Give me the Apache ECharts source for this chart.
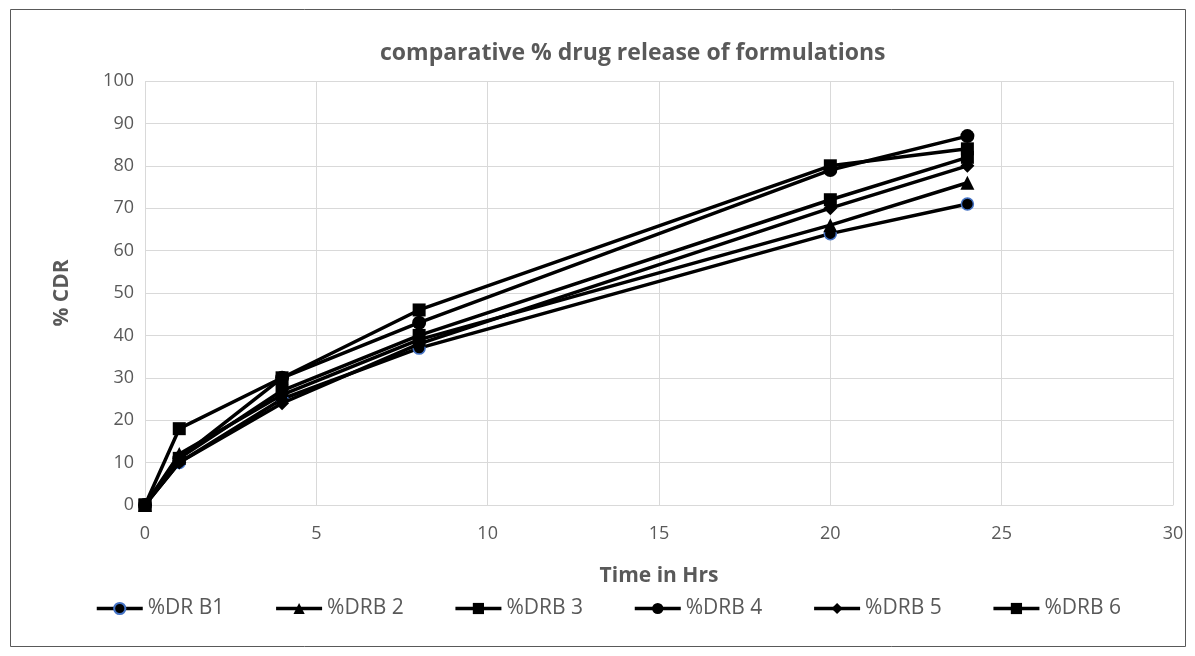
<!DOCTYPE html>
<html>
<head>
<meta charset="utf-8">
<script src="https://cdn.jsdelivr.net/npm/echarts@6/dist/echarts.min.js"></script>
<style>
html,body{margin:0;padding:0;background:#fff;}
#c{width:1195px;height:656px;}
</style>
</head>
<body>
<div id="c"></div>
<script>
const times = [0, 1, 4, 8, 20, 24];
const seriesNames = ['%DR B1', '%DRB 2', '%DRB 3', '%DRB 4', '%DRB 5', '%DRB 6'];
const drB1 = [0, 10, 25, 37, 64, 71];
const drB2 = [0, 12, 26, 39, 66, 76];
const drB3 = [0, 18, 30, 46, 80, 84];
const drB4 = [0, 11, 30, 43, 79, 87];
const drB5 = [0, 10, 24, 38, 70, 80];
const drB6 = [0, 11, 27, 40, 72, 82];
const xTicks = [0, 5, 10, 15, 20, 25, 30];
const yTicks = [0, 10, 20, 30, 40, 50, 60, 70, 80, 90, 100];

const allValues = [drB1, drB2, drB3, drB4, drB5, drB6];
const symbols = ['circle', 'triangle', 'rect', 'circle', 'diamond', 'rect'];
const sizes = [12, 14, 13, 14, 14, 13];

const chart = echarts.init(document.getElementById('c'));
const font = 'Open Sans, Liberation Sans, sans-serif';

const series = allValues.map((vals, i) => ({
  name: seriesNames[i],
  type: 'line',
  data: times.map((t, j) => [t, vals[j]]),
  symbol: symbols[i],
  symbolSize: sizes[i],
  showAllSymbol: true,
  lineStyle: { color: '#000', width: 3.5 },
  itemStyle: i === 0
    ? { color: '#000', borderColor: '#4472c4', borderWidth: 1.5 }
    : { color: '#000', borderWidth: 0 },
  emphasis: { disabled: true },
  animation: false,
  z: 2 + i
}));

chart.setOption({
  animation: false,
  backgroundColor: '#fff',
  graphic: [{
    type: 'rect',
    shape: { x: 10.5, y: 9.5, width: 1175, height: 637 },
    style: { fill: 'none', stroke: '#595959', lineWidth: 1 },
    silent: true
  }],
  title: {
    text: 'comparative % drug release of formulations',
    left: 375,
    top: 37,
    textStyle: { fontFamily: font, fontSize: 23, fontWeight: 'bold', color: '#595959' }
  },
  grid: { left: 145, right: 22, top: 81, bottom: 151 },
  xAxis: {
    type: 'value',
    min: xTicks[0],
    max: xTicks[xTicks.length - 1],
    interval: 5,
    name: 'Time in Hrs',
    nameLocation: 'middle',
    nameGap: 61,
    nameTextStyle: { fontFamily: font, fontSize: 21, fontWeight: 'bold', color: '#595959' },
    axisLine: { show: true, lineStyle: { color: '#d9d9d9', width: 1 } },
    axisTick: { show: false },
    axisLabel: { fontFamily: font, fontSize: 18, color: '#595959', margin: 20 },
    splitLine: { show: true, lineStyle: { color: '#d9d9d9', width: 1 } }
  },
  yAxis: {
    type: 'value',
    min: yTicks[0],
    max: yTicks[yTicks.length - 1],
    interval: 10,
    name: '% CDR',
    nameLocation: 'middle',
    nameGap: 72,
    nameRotate: 90,
    nameTextStyle: { fontFamily: font, fontSize: 21, fontWeight: 'bold', color: '#595959' },
    axisLine: { show: false },
    axisTick: { show: false },
    axisLabel: { fontFamily: font, fontSize: 18, color: '#595959', margin: 11 },
    splitLine: { show: true, lineStyle: { color: '#d9d9d9', width: 1 } }
  },
  legend: {
    data: seriesNames,
    top: 593,
    left: 90,
    itemWidth: 46,
    itemHeight: 14,
    itemGap: 50,
    lineStyle: { width: 3.5, color: '#000' },
    textStyle: { fontFamily: font, fontSize: 21, color: '#595959' }
  },
  series: series
});
</script>
</body>
</html>
